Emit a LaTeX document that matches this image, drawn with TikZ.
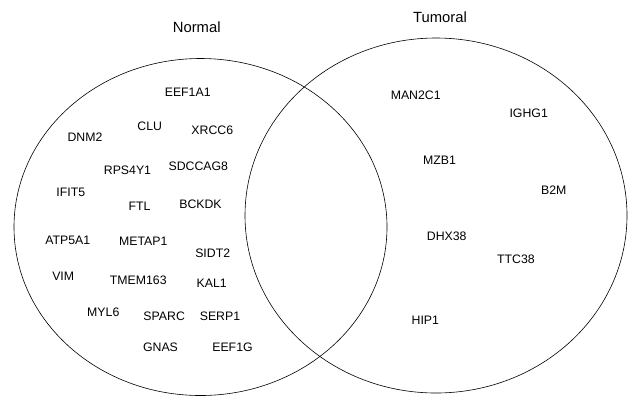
\documentclass[tikz,border=0pt]{standalone}
\usepackage{fontspec}
\setmainfont{Liberation Sans}
\usetikzlibrary{positioning}

\begin{document}
\begin{tikzpicture}[
  x=1bp, y=-1bp,
  setline/.style={draw=black, line width=0.6bp},
  settitle/.style={anchor=base, inner sep=0pt, font=\fontsize{14.8bp}{17bp}\selectfont},
  gene/.style={anchor=base, inner sep=0pt, font=\fontsize{12.3bp}{14bp}\selectfont}
]
\useasboundingbox (0,0) rectangle (639,404);

% Sets
\draw[setline] (200.5,227) ellipse [x radius=186.5, y radius=168.5];
\draw[setline] (436,215.5) ellipse [x radius=191, y radius=177.5];

% Set titles
\node[settitle] (normal) at (196.7,32.3) {Normal};
\node[settitle] (tumoral) at (440,22.7) {Tumoral};

% Normal only
\node[gene] (eefa) at (187.7,96.7) {EEF1A1};
\node[gene] (clu) at (149.7,130) {CLU};
\node[gene] (xrcc) at (212.3,134) {XRCC6};
\node[gene] (dnm) at (85,141.7) {DNM2};
\node[gene] (rps) at (127.5,174) {RPS4Y1};
\node[gene] (sdccag) at (198.3,170) {SDCCAG8};
\node[gene] (ifit) at (70.8,196.7) {IFIT5};
\node[gene] (ftl) at (139.5,210) {FTL};
\node[gene] (bckdk) at (200.5,208) {BCKDK};
\node[gene] (atp) at (67.8,244) {ATP5A1};
\node[gene] (metap) at (143.3,245.7) {METAP1};
\node[gene] (sidt) at (212.7,257.7) {SIDT2};
\node[gene] (vim) at (63.2,280) {VIM};
\node[gene] (tmem) at (138.3,284) {TMEM163};
\node[gene] (kal) at (211.7,287.3) {KAL1};
\node[gene] (myl) at (103.3,316) {MYL6};
\node[gene] (sparc) at (164.2,320) {SPARC};
\node[gene] (serp) at (220,320) {SERP1};
\node[gene] (gnas) at (160.5,351.7) {GNAS};
\node[gene] (eefg) at (232.5,351.7) {EEF1G};

% Tumoral only
\node[gene] (man) at (415.7,99) {MAN2C1};
\node[gene] (ighg) at (528.7,117.3) {IGHG1};
\node[gene] (mzb) at (439.5,164) {MZB1};
\node[gene] (btwom) at (553.7,194.3) {B2M};
\node[gene] (dhx) at (446.7,240.7) {DHX38};
\node[gene] (ttc) at (516,263.3) {TTC38};
\node[gene] (hip) at (425.3,324) {HIP1};

\end{tikzpicture}
\end{document}
